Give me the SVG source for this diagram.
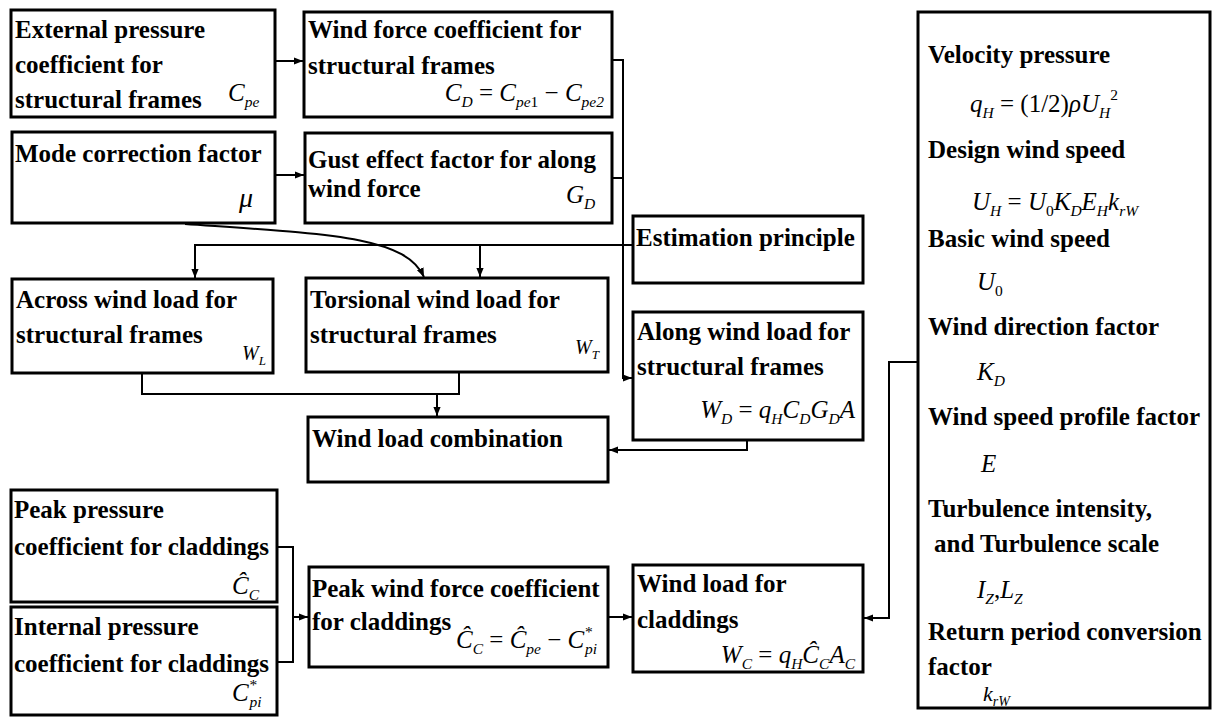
<svg xmlns="http://www.w3.org/2000/svg" width="1213" height="718" viewBox="0 0 1213 718">
<style>
.b{fill:#fff;stroke:#000;stroke-width:3}
.t{font-family:"Liberation Serif","Times New Roman",serif;font-weight:bold;font-size:25px;fill:#000}
.m{font-family:"Liberation Serif","Times New Roman",serif;font-style:italic;font-size:25px;fill:#000}
.s{font-size:15.5px}
.u{font-style:normal}
.c{fill:none;stroke:#000;stroke-width:2}
.a{marker-end:url(#ah)}
</style>
<defs>
<marker id="ah" viewBox="0 0 10 10" refX="10" refY="5" markerWidth="9" markerHeight="9" markerUnits="userSpaceOnUse" orient="auto"><path d="M0,1 L10,5 L0,9 z" fill="#000"/></marker>
</defs>
<rect width="1213" height="718" fill="#fff"/>
<g id="connectors">
<path class="c a" d="M275,61 H303"/>
<path class="c a" d="M275,175 H304"/>
<path class="c a" d="M612,60 H623 V378 H632"/>
<path class="c" d="M612,178 H623"/>
<path class="c a" d="M633,245 H195 V278"/>
<path class="c a" d="M480,245 V277"/>
<path class="c a" d="M185,224 C330,234 405,236 424,277"/>
<path class="c" d="M142,373 V394 H459 V372"/>
<path class="c a" d="M437,394 V416"/>
<path class="c a" d="M747,440 V450 H609"/>
<path class="c a" d="M918,362 H889 V618 H864"/>
<path class="c" d="M277,547 H293 V662 H277"/>
<path class="c a" d="M293,617 H308"/>
<path class="c a" d="M608,617 H632"/>
</g>
<g id="n1">
<rect class="b" x="11" y="10" width="264" height="107"/>
<text class="t" x="15" y="38">External pressure</text>
<text class="t" x="15" y="73">coefficient for</text>
<text class="t" x="15" y="108">structural frames</text>
<text class="m" x="228" y="101">C<tspan class="s" dy="6">pe</tspan></text>
</g>
<g id="n2">
<rect class="b" x="304" y="12" width="308" height="105"/>
<text class="t" x="308" y="38">Wind force coefficient for</text>
<text class="t" x="308" y="74">structural frames</text>
<text class="m" x="604" y="101" text-anchor="end">C<tspan class="s" dy="6">D</tspan><tspan class="u" dy="-6"> = </tspan>C<tspan class="s" dy="6">pe</tspan><tspan class="s u">1</tspan><tspan class="u" dy="-6"> − </tspan>C<tspan class="s" dy="6">pe2</tspan></text>
</g>
<g id="n3">
<rect class="b" x="12" y="132" width="263" height="91"/>
<text class="t" x="15" y="162">Mode correction factor</text>
<text class="m" x="239" y="207" style="font-size:28px">μ</text>
</g>
<g id="n4">
<rect class="b" x="305" y="133" width="307" height="90"/>
<text class="t" x="308" y="168">Gust effect factor for along</text>
<text class="t" x="308" y="197">wind force</text>
<text class="m" x="566" y="203">G<tspan class="s" dy="6">D</tspan></text>
</g>
<g id="n5">
<rect class="b" x="633" y="216" width="230" height="67"/>
<text class="t" x="636" y="246">Estimation principle</text>
</g>
<g id="n6">
<rect class="b" x="12" y="279" width="261" height="94"/>
<text class="t" x="16" y="308">Across wind load for</text>
<text class="t" x="16" y="343">structural frames</text>
<text class="m" x="242" y="360" style="font-size:20px">W<tspan class="s" dy="5" style="font-size:13px">L</tspan></text>
</g>
<g id="n7">
<rect class="b" x="306" y="278" width="302" height="94"/>
<text class="t" x="310" y="308">Torsional wind load for</text>
<text class="t" x="310" y="343">structural frames</text>
<text class="m" x="575" y="354" style="font-size:20px">W<tspan class="s" dy="5" style="font-size:13px">T</tspan></text>
</g>
<g id="n8">
<rect class="b" x="633" y="312" width="230" height="128"/>
<text class="t" x="637" y="340">Along wind load for</text>
<text class="t" x="637" y="375">structural frames</text>
<text class="m" x="855" y="418" text-anchor="end">W<tspan class="s" dy="6">D</tspan><tspan class="u" dy="-6"> = </tspan>q<tspan class="s" dy="6">H</tspan><tspan dy="-6">C</tspan><tspan class="s" dy="6">D</tspan><tspan dy="-6">G</tspan><tspan class="s" dy="6">D</tspan><tspan dy="-6">A</tspan></text>
</g>
<g id="n9">
<rect class="b" x="308" y="417" width="300" height="65"/>
<text class="t" x="312" y="447">Wind load combination</text>
</g>
<g id="n10">
<rect class="b" x="11" y="490" width="266" height="112"/>
<text class="t" x="14" y="518">Peak pressure</text>
<text class="t" x="14" y="555">coefficient for claddings</text>
<text class="m" x="232" y="594">Ĉ<tspan class="s" dy="6">C</tspan></text>
</g>
<g id="n11">
<rect class="b" x="11" y="607" width="266" height="108"/>
<text class="t" x="14" y="635">Internal pressure</text>
<text class="t" x="14" y="672">coefficient for claddings</text>
<text class="m" x="232" y="701">C<tspan class="s" dy="-11">*</tspan><tspan class="s" dx="-7" dy="17">pi</tspan></text>
</g>
<g id="n12">
<rect class="b" x="309" y="567" width="299" height="100"/>
<text class="t" x="312" y="597">Peak wind force coefficient</text>
<text class="t" x="312" y="630">for claddings</text>
<text class="m" x="456" y="648">Ĉ<tspan class="s" dy="6">C</tspan><tspan class="u" dy="-6"> = </tspan>Ĉ<tspan class="s" dy="6">pe</tspan><tspan class="u" dy="-6"> − </tspan>C<tspan class="s" dy="-11">*</tspan><tspan class="s" dx="-7" dy="17">pi</tspan></text>
</g>
<g id="n13">
<rect class="b" x="633" y="565" width="230" height="107"/>
<text class="t" x="637" y="592">Wind load for</text>
<text class="t" x="637" y="628">claddings</text>
<text class="m" x="855" y="663" text-anchor="end">W<tspan class="s" dy="6">C</tspan><tspan class="u" dy="-6"> = </tspan>q<tspan class="s" dy="6">H</tspan><tspan dy="-6">Ĉ</tspan><tspan class="s" dy="6">C</tspan><tspan dy="-6">A</tspan><tspan class="s" dy="6">C</tspan></text>
</g>
<g id="n14">
<rect class="b" x="918" y="12" width="292" height="696"/>
<text class="t" x="928" y="63">Velocity pressure</text>
<text class="m" x="970" y="112">q<tspan class="s" dy="6">H</tspan><tspan class="u" dy="-6"> = (1/2)</tspan>ρU<tspan class="s" dy="6">H</tspan><tspan class="s u" dy="-18">2</tspan></text>
<text class="t" x="928" y="158">Design wind speed</text>
<text class="m" x="972" y="210">U<tspan class="s" dy="6">H</tspan><tspan class="u" dy="-6"> = </tspan>U<tspan class="s u" dy="6">0</tspan><tspan dy="-6">K</tspan><tspan class="s" dy="6">D</tspan><tspan dy="-6">E</tspan><tspan class="s" dy="6">H</tspan><tspan dy="-6">k</tspan><tspan class="s" dy="6">rW</tspan></text>
<text class="t" x="928" y="247">Basic wind speed</text>
<text class="m" x="977" y="290">U<tspan class="s u" dy="6">0</tspan></text>
<text class="t" x="928" y="335">Wind direction factor</text>
<text class="m" x="977" y="380">K<tspan class="s" dy="6">D</tspan></text>
<text class="t" x="928" y="425">Wind speed profile factor</text>
<text class="m" x="981" y="472">E</text>
<text class="t" x="928" y="517">Turbulence intensity,</text>
<text class="t" x="934" y="552">and Turbulence scale</text>
<text class="m" x="977" y="598">I<tspan class="s" dy="6">Z</tspan><tspan class="u" dy="-6">,</tspan>L<tspan class="s" dy="6">Z</tspan></text>
<text class="t" x="928" y="640">Return period conversion</text>
<text class="t" x="928" y="675">factor</text>
<text class="m" x="983" y="701" style="font-size:22px">k<tspan class="s" dy="5" style="font-size:14px">rW</tspan></text>
</g>
</svg>
